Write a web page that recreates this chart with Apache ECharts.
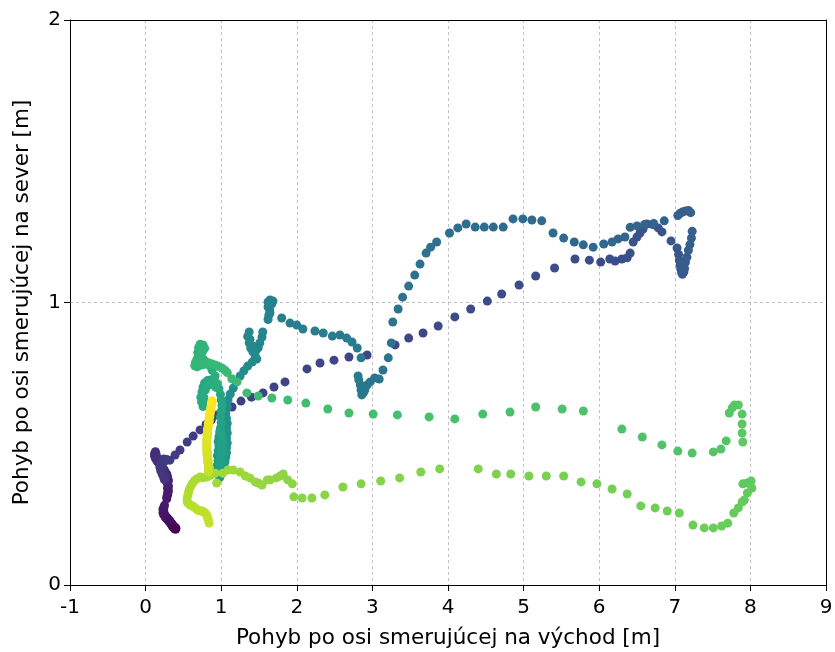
<!DOCTYPE html>
<html>
<head>
<meta charset="utf-8">
<script src="https://cdn.jsdelivr.net/npm/echarts@6/dist/echarts.min.js"></script>
<style>
    html, body {margin:0; padding:0; background:#ffffff;}
    #chart {width:835px; height:652px;}
</style>
</head>
<body>
<div id="chart"></div>
<script>
// trajektoria po usekoch, v poradi ako boli body namerane [vychod, sever]
var startCluster = [[0.40,0.198],[0.40,0.202],[0.39,0.203],[0.39,0.198],[0.38,0.200],[0.38,0.206],[0.37,0.208],[0.37,0.203],[0.36,0.212],[0.36,0.206],[0.35,0.210],[0.35,0.216],[0.34,0.218],[0.34,0.214],[0.33,0.222],[0.32,0.228],[0.32,0.222],[0.31,0.225],[0.30,0.232],[0.30,0.228],[0.29,0.236],[0.28,0.240],[0.28,0.234],[0.27,0.238],[0.26,0.245],[0.26,0.240],[0.25,0.250],[0.24,0.248],[0.24,0.254],[0.23,0.256],[0.24,0.262],[0.23,0.268],[0.24,0.270],[0.24,0.275],[0.25,0.282],
    [0.28,0.305],[0.28,0.312],[0.29,0.318],[0.29,0.325],[0.30,0.330],[0.30,0.336],[0.29,0.342],[0.30,0.347],[0.30,0.352],[0.29,0.358],[0.29,0.363],[0.30,0.368],[0.30,0.372],[0.29,0.378],[0.29,0.383],[0.28,0.392],[0.27,0.395],[0.26,0.398],[0.25,0.406],[0.24,0.410],[0.23,0.412],[0.21,0.420],[0.20,0.423],[0.19,0.426],[0.17,0.433],[0.16,0.437],[0.15,0.440],[0.13,0.448],[0.12,0.456],[0.12,0.461],[0.12,0.466],[0.13,0.472],[0.14,0.462],[0.15,0.452],[0.16,0.444],[0.18,0.436],[0.20,0.428],[0.22,0.420],[0.23,0.408],[0.24,0.396],[0.26,0.384],[0.25,0.372],[0.24,0.380],[0.22,0.392],[0.20,0.404],[0.19,0.416],[0.19,0.424],[0.20,0.432],[0.21,0.436],[0.22,0.440],[0.24,0.446],[0.26,0.440],[0.28,0.444]];
var diagLow = [[0.32,0.442],[0.39,0.460],[0.455,0.478],[0.55,0.506],[0.63,0.527],[0.72,0.549],[0.80,0.568],[0.87,0.585],[0.944,0.602],[1.143,0.630],[1.262,0.651],[1.40,0.665],[1.553,0.680],[1.698,0.701],[1.844,0.719],[2.135,0.765],[2.307,0.786],[2.492,0.796],[2.69,0.807],[2.93,0.814]];
var diagHigh = [[3.30,0.850],[3.48,0.874],[3.67,0.892],[3.87,0.917],[4.09,0.949],[4.30,0.977],[4.52,1.005],[4.71,1.030],[4.94,1.062],[5.16,1.094],[5.41,1.122],[5.68,1.154],[5.87,1.150],[6.02,1.143],[6.14,1.154],[6.21,1.147],[6.30,1.154],[6.37,1.158],[6.41,1.175],[6.45,1.214],[6.50,1.232],[6.54,1.246],[6.58,1.260],[6.63,1.278]];
var eastTurn = [[6.71,1.276],[6.78,1.264],[6.83,1.250],[6.95,1.218],[7.03,1.193],[7.05,1.170],[7.06,1.150],[7.07,1.132],[7.08,1.118],[7.09,1.106],[7.10,1.100],[7.12,1.108],[7.13,1.120],[7.11,1.135],[7.14,1.142],[7.16,1.160],[7.18,1.185],[7.20,1.205],[7.22,1.228],[7.23,1.252],[7.21,1.318],[7.18,1.326],[7.14,1.324],[7.10,1.320],[7.07,1.316],[7.04,1.308]];
var upperBack = [[6.86,1.289],[6.72,1.280],[6.60,1.276],[6.50,1.271],[6.41,1.266],[6.34,1.232],[6.25,1.225],[6.17,1.214],[6.06,1.207],[5.92,1.196],[5.79,1.204],[5.67,1.214],[5.53,1.228],[5.39,1.246],[5.24,1.289],[5.11,1.292],[4.99,1.296],[4.86,1.296],[4.73,1.267],[4.60,1.267],[4.48,1.267],[4.36,1.267],[4.24,1.278],[4.13,1.264],[4.02,1.246],[3.85,1.214],[3.77,1.196],[3.71,1.175],[3.63,1.136],[3.56,1.097],[3.48,1.058],[3.40,1.019],[3.34,0.977],[3.27,0.931],[3.25,0.857],[3.21,0.804],[3.14,0.761],[3.09,0.729],[3.03,0.733],[2.97,0.719],[2.93,0.708],[2.90,0.690],[2.88,0.680],[2.86,0.673],[2.85,0.690],[2.84,0.708],[2.82,0.726],[2.81,0.740]];
var westRow = [[2.85,0.804],[2.80,0.839],[2.73,0.860],[2.66,0.874],[2.57,0.885],[2.47,0.881],[2.35,0.892],[2.24,0.899],[2.08,0.906],[2.00,0.920],[1.91,0.927],[1.80,0.945],[1.645,0.963],[1.62,0.984],[1.62,1.002],[1.645,1.009],[1.685,1.005],[1.67,0.995],[1.64,0.975],[1.63,0.955],[1.62,0.940],[1.55,0.896],[1.54,0.878],[1.51,0.857],[1.49,0.840],[1.46,0.830],[1.42,0.845],[1.38,0.870],[1.37,0.896],[1.35,0.880],[1.37,0.857],[1.39,0.839],[1.42,0.825],[1.45,0.811],[1.47,0.800],[1.41,0.789],[1.35,0.775],[1.30,0.758],[1.25,0.740],[1.20,0.719],[1.16,0.697],[1.12,0.676],[1.09,0.655],[1.08,0.630],[1.06,0.609]];
var columns = [[1.07,0.590],[1.08,0.572],[1.07,0.555],[1.08,0.538],[1.07,0.520],[1.08,0.503],[1.07,0.486],[1.07,0.468],[1.06,0.452],[1.05,0.436],[1.04,0.420],[1.02,0.405],[1.00,0.392],[0.98,0.380],[0.96,0.392],[0.95,0.408],[0.95,0.425],[0.96,0.442],[0.95,0.458],[0.96,0.475],[0.97,0.492],[0.96,0.508],[0.97,0.525],[0.98,0.542],[1.00,0.530],[1.02,0.515],[1.03,0.498],[1.02,0.480],[1.03,0.462],[1.02,0.445],[1.01,0.428],[1.00,0.412],[0.99,0.430],[0.99,0.450],[1.00,0.470],[1.00,0.490],[1.01,0.510],[1.00,0.535],[0.99,0.555],[1.00,0.575],[0.99,0.595],[1.00,0.615],[1.01,0.635],[1.00,0.655]];
var loops = [[0.99,0.675],[0.97,0.695],[0.94,0.712],[0.90,0.722],[0.86,0.726],[0.82,0.724],[0.78,0.715],[0.76,0.700],[0.745,0.683],[0.73,0.665],[0.74,0.648],[0.76,0.632],[0.78,0.645],[0.77,0.665],[0.79,0.690],[0.82,0.705],[0.86,0.712],[0.90,0.708],[0.93,0.700],[0.95,0.712],[0.92,0.740],[0.88,0.760],[0.84,0.778],[0.80,0.790],[0.76,0.800],[0.72,0.808],[0.69,0.822],[0.70,0.840],[0.72,0.852],[0.76,0.850],[0.78,0.838],[0.75,0.825],[0.72,0.812],[0.68,0.800],[0.66,0.788],[0.65,0.776],[0.68,0.772],[0.72,0.778],[0.76,0.780],[0.80,0.784],[0.84,0.786],[0.88,0.782],[0.92,0.779],[0.96,0.774],[1.01,0.768],[1.05,0.760],[1.08,0.752],[1.14,0.730]];
var midRow = [[1.21,0.719],[1.34,0.680],[1.49,0.669],[1.67,0.662],[1.88,0.655],[2.12,0.644],[2.41,0.623],[2.69,0.609],[3.01,0.605],[3.33,0.602],[3.75,0.595],[4.09,0.588],[4.46,0.605],[4.82,0.612],[5.16,0.630],[5.51,0.623],[5.79,0.616],[6.30,0.552],[6.57,0.524],[6.83,0.496],[7.04,0.474],[7.23,0.467],[7.51,0.471],[7.61,0.481],[7.68,0.510],[7.72,0.609],[7.76,0.627],[7.79,0.637],[7.84,0.637],[7.89,0.605],[7.89,0.570],[7.89,0.538],[7.90,0.506]];
var lowRow = [[7.90,0.358],[7.96,0.361],[8.01,0.368],[8.02,0.343],[7.96,0.326],[7.92,0.301],[7.89,0.294],[7.84,0.273],[7.78,0.255],[7.70,0.219],[7.62,0.209],[7.51,0.202],[7.39,0.202],[7.24,0.212],[7.06,0.255],[6.90,0.262],[6.74,0.273],[6.55,0.280],[6.37,0.322],[6.17,0.340],[5.97,0.358],[5.76,0.365],[5.53,0.386],[5.30,0.386],[5.07,0.386],[4.83,0.393],[4.64,0.393],[4.40,0.411],[3.89,0.411],[3.64,0.400],[3.36,0.379],[3.11,0.368],[2.85,0.358],[2.61,0.347],[2.37,0.319],[2.20,0.308],[2.07,0.308],[1.96,0.312],[1.94,0.358],[1.88,0.372],[1.82,0.393],[1.78,0.386],[1.73,0.379],[1.65,0.372],[1.61,0.372],[1.54,0.354],[1.49,0.361],[1.45,0.365],[1.38,0.379],[1.32,0.386],[1.25,0.400],[1.16,0.407],[1.09,0.407],[1.02,0.396],[0.94,0.361]];
var arc = [[0.92,0.396],[0.86,0.388],[0.81,0.382],[0.76,0.380],[0.72,0.382],[0.68,0.376],[0.65,0.370],[0.62,0.360],[0.60,0.350],[0.58,0.340],[0.57,0.330],[0.56,0.319],[0.55,0.306],[0.55,0.294],[0.57,0.288],[0.59,0.283],[0.62,0.280],[0.64,0.276],[0.67,0.270],[0.69,0.265],[0.72,0.263],[0.75,0.262],[0.77,0.258],[0.79,0.255],[0.81,0.246],[0.82,0.238],[0.83,0.230],[0.84,0.219]];
var finish = [[0.83,0.400],[0.84,0.405],[0.83,0.410],[0.84,0.416],[0.83,0.422],[0.83,0.428],[0.82,0.434],[0.83,0.440],[0.82,0.446],[0.82,0.452],[0.82,0.458],[0.81,0.464],[0.82,0.470],[0.81,0.476],[0.81,0.482],[0.81,0.488],[0.81,0.494],[0.81,0.500],[0.81,0.506],[0.81,0.512],[0.81,0.518],[0.82,0.524],[0.81,0.530],[0.82,0.536],[0.82,0.542],[0.82,0.548],[0.82,0.554],[0.83,0.560],[0.83,0.566],[0.83,0.572],[0.84,0.578],[0.84,0.584],[0.84,0.590],[0.85,0.596],[0.85,0.602],[0.85,0.608],[0.86,0.614],[0.86,0.620],[0.86,0.626],[0.87,0.632],[0.87,0.638],[0.87,0.643],[0.88,0.648],[0.88,0.652]];

var xTicks = {min: -1, max: 9, step: 1};
var yTicks = {min: 0, max: 2, step: 1};
var viridis = ['#440154','#482878','#3e4989','#31688e','#26828e','#1f9e89','#35b779','#6ece58','#b5de2b','#fde725'];

function buildTrack()
{
    var legs = [startCluster, diagLow, diagHigh, eastTurn, upperBack, westRow, columns, loops, midRow, lowRow, arc, finish];
    var out = [];
    for (var i = 0; i < legs.length; i++)
        for (var j = 0; j < legs[i].length; j++)
            out.push([legs[i][j][0], legs[i][j][1], out.length]);//treti stlpec = poradie bodu
    return out;
}

function frameAxis(pos, t)//horny a pravy okraj ramika
{
    return {type: 'value', position: pos, min: t.min, max: t.max, interval: t.step,
        axisLine: {show: true, onZero: false, lineStyle: {color: '#000', width: 1}},
        axisTick: {show: false}, axisLabel: {show: false}, splitLine: {show: false}};
}

var track = buildTrack();
var chart = echarts.init(document.getElementById('chart'), null, {renderer: 'canvas'});
var font = 'DejaVu Sans';
var grid = {color: '#b0b0b0', type: [3, 3], width: 0.8};

var option = {
    animation: false,
    backgroundColor: '#ffffff',
    grid: {left: 70, right: 9, top: 20, bottom: 67, outerBoundsMode: 'none', containLabel: false},
    visualMap: {show: false, type: 'continuous', dimension: 2, seriesIndex: 0, min: 0, max: track.length - 1, inRange: {color: viridis}},
    xAxis: [{type: 'value', min: xTicks.min, max: xTicks.max, interval: xTicks.step,
        name: 'Pohyb po osi smerujúcej na východ [m]', nameLocation: 'middle', nameGap: 42,
        nameTextStyle: {color: '#000', fontFamily: font, fontSize: 21.5},
        axisLine: {onZero: false, lineStyle: {color: '#000', width: 1}},
        axisTick: {show: true, length: 6, lineStyle: {color: '#000'}},
        axisLabel: {color: '#000', fontFamily: font, fontSize: 20, margin: 13},
        splitLine: {show: true, lineStyle: grid}},
        frameAxis('top', xTicks)],
    yAxis: [{type: 'value', min: yTicks.min, max: yTicks.max, interval: yTicks.step,
        name: 'Pohyb po osi smerujúcej na sever [m]', nameLocation: 'middle', nameGap: 37,
        nameTextStyle: {color: '#000', fontFamily: font, fontSize: 21.5},
        axisLine: {show: true, onZero: false, lineStyle: {color: '#000', width: 1}},
        axisTick: {show: true, length: 6, lineStyle: {color: '#000'}},
        axisLabel: {color: '#000', fontFamily: font, fontSize: 20, margin: 9},
        splitLine: {show: true, lineStyle: grid}},
        frameAxis('right', yTicks)],
    series: [{type: 'scatter', data: track, symbolSize: 9, itemStyle: {opacity: 1}}]
};

chart.setOption(option);
</script>
</body>
</html>
